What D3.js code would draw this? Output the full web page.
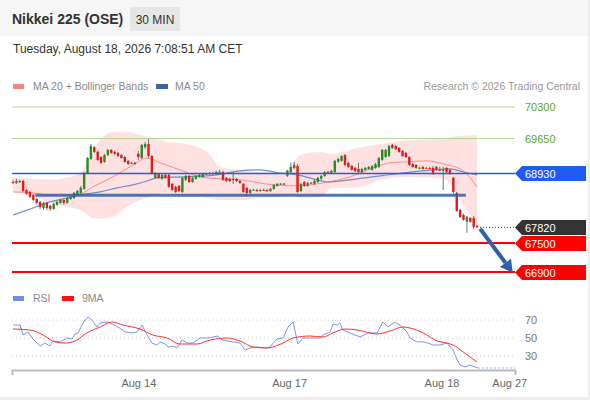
<!DOCTYPE html>
<html>
<head>
<meta charset="utf-8">
<script src="https://cdn.jsdelivr.net/npm/d3@7"></script>
<style>
  html, body { margin: 0; padding: 0; background: #ededed; }
  svg { display: block; font-family: "Liberation Sans", Arial, sans-serif; }
</style>
</head>
<body>
<div id="chart"></div>
<script>
// ---- data (30 min candles, index 0 = first visible bar) ----
var opens = [68755,68735,68775,68775,68590,68550,68490,68405,68345,68220,
  68325,68265,68200,68285,68325,68385,68325,68405,68425,68490,
  68530,68615,68940,69230,69475,69375,69270,69170,69310,69415,
  69375,69355,69310,69270,69190,69150,69150,69335,69250,69475,
  69540,69290,68840,68920,68820,68900,68900,68715,68655,68675,
  68550,68800,68880,68755,68820,68860,68860,68920,68920,68940,
  68920,68960,68960,68840,68820,68820,68820,68775,68715,68635,
  68530,68590,68590,68570,68595,68590,68570,68615,68675,68715,
  68720,68880,68960,69045,69085,68570,68755,68675,68735,68715,
  68755,68820,68880,68965,68940,68960,69170,69190,69310,69150,
  69085,69045,69025,68960,69005,69025,69005,69045,69065,69210,
  69270,69290,69520,69495,69455,69395,69355,69270,69125,69105,
  69040,69065,69045,69045,69045,69065,69005,69000,69045,69005,
  68840,68530,68180,68075,67935,68015,68015,67850];
var closes = [68750,68775,68755,68570,68510,68450,68385,68325,68240,68325,
  68220,68200,68305,68345,68385,68325,68425,68450,68530,68570,
  68635,68940,69250,69495,69375,69210,69150,69310,69415,69355,
  69335,69290,69250,69170,69125,69145,69125,69270,69520,69540,
  69290,68940,68940,68840,68900,68840,68655,68590,68550,68570,
  68840,68880,68755,68840,68880,68900,68920,68925,68940,68920,
  68960,68965,68800,68775,68775,68815,68775,68735,68550,68530,
  68590,68595,68570,68590,68590,68570,68615,68695,68715,68720,
  68715,68985,69065,69105,68550,68715,68675,68735,68740,68775,
  68840,68880,68960,68960,68985,69190,69230,69290,69105,69065,
  69005,68985,68960,69025,69045,69065,69085,69125,69250,69415,
  69415,69495,69455,69435,69375,69290,69270,69105,69065,69045,
  69045,69025,69040,69025,68920,69005,69000,69005,68960,68920,
  68550,68160,68035,67975,68035,67935,67830,67820];
var highs = [68800,68820,68800,68800,68615,68570,68510,68425,68365,68345,
  68345,68285,68325,68365,68405,68405,68450,68490,68550,68590,
  68675,68960,69270,69540,69495,69395,69290,69335,69435,69435,
  69395,69375,69335,69290,69210,69170,69170,69395,69540,69580,
  69640,69310,68960,68940,68920,68920,68920,68735,68675,68695,
  68860,68900,68900,68860,68900,68920,68940,68940,68960,68960,
  68985,69005,68985,68860,68840,68960,68840,68800,68735,68655,
  68615,68615,68615,68615,68615,68615,68635,68715,68735,68735,
  68735,69005,69150,69170,69125,68735,68775,68755,68755,68800,
  68860,68900,68985,68985,69005,69210,69250,69310,69335,69170,
  69105,69065,69150,69045,69065,69085,69105,69150,69270,69435,
  69435,69520,69540,69520,69475,69415,69375,69290,69150,69125,
  69065,69085,69065,69065,69085,69085,69065,69065,69065,69025,
  68860,68550,68200,68100,68055,68035,68055,67870];
var lows = [68715,68715,68735,68550,68490,68425,68365,68285,68200,68180,
  68180,68160,68180,68265,68305,68285,68305,68385,68405,68470,
  68510,68590,68920,69210,69355,69190,69125,69150,69290,69335,
  69310,69270,69230,69150,69105,69125,69105,69210,69230,69435,
  69250,68900,68820,68820,68800,68820,68635,68570,68530,68550,
  68530,68775,68735,68735,68800,68840,68840,68900,68900,68900,
  68900,68940,68775,68755,68755,68715,68755,68715,68530,68450,
  68510,68570,68550,68550,68570,68550,68550,68590,68655,68695,
  68695,68860,68940,69025,68530,68550,68655,68655,68715,68695,
  68735,68800,68860,68940,68920,68940,69150,69170,69085,69045,
  68985,68960,68940,68940,68985,69005,68985,69025,69045,69190,
  69250,69270,69435,69415,69355,69270,69250,69085,69045,69025,
  69025,69005,69025,69005,68900,68985,68985,68590,68940,68900,
  68510,68140,68015,67955,67705,67915,67790,67810];

// indicator readings: [bar index, value]
var ma20 = [[0,68550],[5.9,68530],[10.9,68490],[15.9,68490],[19.8,68510],[23.6,68655],
  [29.5,68860],[35.4,69105],[39.6,69250],[43.4,69150],[49.3,69005],[55.2,68860],
  [61.1,68820],[67,68800],[72.9,68735],[76.8,68695],[83.8,68675],[91.5,68735],
  [99.5,68860],[106.3,69045],[111.3,69150],[116.3,69170],[122.2,69190],[128.1,69105],
  [132,69025],[135,68840],[137,68655]];
var bandIdx = [0,5.9,10.9,15.9,19.8,23.6,25.7,29.5,33.7,37.5,40.4,45.5,49.3,55.2,58.2,61.1,
  67,72.9,78.8,81.8,84.7,90.6,94.5,99.5,104.5,107.5,112.2,117.2,122,127,129.9,132,135,137];
var bandUpper = [68840,68820,68800,68840,68940,69355,69620,69785,69785,69725,69685,69580,69560,
  69455,69310,69065,69005,68960,68940,69065,69310,69375,69335,69420,69490,69520,69580,69620,
  69630,69640,69685,69700,69715,69725];
var bandLower = [68550,68470,68325,68240,68180,68015,68000,68035,68250,68380,68450,68530,68450,
  68450,68420,68385,68385,68425,68450,68490,68425,68450,68635,68635,68695,68775,68840,68860,
  68850,68820,68650,68385,68075,67810];
var ma50 = [[0,68075],[5.9,68220],[10.9,68345],[15.9,68425],[19.8,68490],[25.7,68550],
  [30.7,68635],[35.4,68695],[39.6,68775],[42.5,68840],[50.2,68860],[60.2,68900],
  [67,68985],[72.9,69005],[78.8,68940],[83.9,68900],[89.8,68800],[92.7,68755],
  [99.5,68800],[108.4,68880],[117.2,68960],[124,69005],[129,69025],[132.9,68960],[137,68900]];

var rsi = [[0,64.4],[2.1,64.4],[3,53.3],[4.4,56.7],[5.6,50],[7.1,44.4],[8,41.1],[9.4,44.4],
  [10.9,41.1],[11.8,46.7],[13.9,45.6],[15.9,50],[17.4,48.9],[18.3,54.4],[19.2,55.6],
  [20.7,66.7],[22.1,73.3],[23.3,70],[24.8,62.2],[25.7,66.7],[27.8,67.8],[29.2,65.6],
  [31,62.2],[33.1,56.7],[35.1,55.6],[36.6,56.7],[38.1,64.4],[39.6,53.3],[41,44.4],
  [42.5,42.2],[43.4,45.6],[44.9,43.3],[45.8,40],[47.2,41.1],[48.4,38.9],[49.9,47.8],
  [51.4,44.4],[53.1,44.4],[55.2,50],[57.6,50],[59,51.1],[60.5,52.2],[61.7,47.8],
  [65,45.6],[67,44.4],[68.5,36.7],[70,38.9],[72,40],[74.4,38.9],[75.9,40],[77.9,48.9],
  [79.7,50],[81.2,62.2],[82.7,67.8],[84.1,43.3],[85.6,50],[88.6,50],[90.6,50],
  [91.5,53.3],[93.6,56.7],[94.5,65.6],[95.7,64.4],[96.5,66.7],[97.4,58.9],[99.5,55.6],
  [102.5,51.1],[104.8,55.6],[107.5,55.6],[109.2,67.8],[110.7,62.2],[112.8,67.8],
  [114.9,62.2],[116.3,56.7],[117.2,50],[119.3,45.6],[121.1,45.6],[122.5,44.4],
  [124,42.2],[126.1,42.2],[128.1,44.4],[129.9,36.7],[131.1,25.6],[132,20],[133.5,17.8],
  [134.9,20],[136.4,17.8],[137.3,16.7]];
var rsiMa = [[0,60],[5,58.9],[8.9,53.3],[12.4,45.6],[15.4,44.4],[18.3,46.7],[21.8,55.6],
  [25.7,62.2],[29.2,67.8],[32.5,64.4],[37.5,60],[41.3,53.3],[45.5,50],[49.3,43.3],
  [54.3,43.3],[58.2,47.8],[63.2,50],[67,46.7],[70.9,40],[75,38.9],[79.7,44.4],[82.7,50],
  [87.7,52.2],[91.5,51.1],[94.5,55.6],[98,60],[101.6,58.9],[107.5,54.4],[111.3,57.8],
  [115.1,62.2],[117.2,61.1],[121.1,55.6],[125.2,46.7],[128.1,44.4],[129.9,42.2],
  [132.9,34.4],[137,23.3]];

var resistances = [70300, 69650];
var pivot = 68930;
var supports = [67500, 66900];
var lastPrice = 67820;
var baseLevel = 68480;
var rsiLevels = [70, 50, 30];
var tickIdx = [37, 81.5, 126.5, 146.5];
var tickLabels = ["Aug 14", "Aug 17", "Aug 18", "Aug 27"];

// ---- layout ----
var width = 590, height = 400;
var plotLeft = 12, plotRight = 515;

var x = d3.scaleLinear().domain([-0.3, 148.2]).range([plotLeft, plotRight]);
var y = d3.scaleLinear().domain([66900, 70300]).range([272, 107]);
var yRsi = d3.scaleLinear().domain([30, 70]).range([356, 320]);

var svg = d3.select('#chart').append('svg')
  .attr('width', width)
  .attr('height', height);

svg.append('rect').attr('x', 0).attr('y', 0)
  .attr('width', 588).attr('height', 397).attr('fill', '#fff');
svg.append('rect').attr('x', 0).attr('y', 0)
  .attr('width', 588).attr('height', 36).attr('fill', '#f6f6f6');

// header
svg.append('text').attr('x', 12).attr('y', 24)
  .attr('font-size', 14).attr('font-weight', 'bold').attr('fill', '#333')
  .text('Nikkei 225 (OSE)');
svg.append('rect').attr('x', 130).attr('y', 7).attr('width', 50).attr('height', 24)
  .attr('fill', '#e6e6e6');
svg.append('text').attr('x', 155).attr('y', 24).attr('text-anchor', 'middle')
  .attr('font-size', 12).attr('fill', '#333').text('30 MIN');
svg.append('text').attr('x', 13).attr('y', 53)
  .attr('font-size', 12).attr('fill', '#333')
  .text('Tuesday, August 18, 2026 7:08:51 AM CET');

// legend
var legend = svg.append('g');
legend.append('rect').attr('x', 13).attr('y', 84).attr('width', 11).attr('height', 5).attr('fill', '#ff8080');
legend.append('text').attr('x', 33).attr('y', 90).attr('font-size', 10.5).attr('fill', '#888')
  .text('MA 20 + Bollinger Bands');
legend.append('rect').attr('x', 156).attr('y', 84).attr('width', 12).attr('height', 5).attr('fill', '#3a63a8');
legend.append('text').attr('x', 175).attr('y', 90).attr('font-size', 10.5).attr('fill', '#888')
  .text('MA 50');
legend.append('text').attr('x', 580).attr('y', 90).attr('text-anchor', 'end')
  .attr('font-size', 10.5).attr('fill', '#999').text('Research \u00a9 2026 Trading Central');

// bollinger bands
var bandArea = d3.area()
  .x(function(d, i){ return x(d); })
  .y0(function(d, i){ return y(bandLower[i]); })
  .y1(function(d, i){ return y(bandUpper[i]); })
  .curve(d3.curveMonotoneX);
svg.append('path').datum(bandIdx).attr('d', bandArea)
  .attr('fill', '#ffdcdc').attr('opacity', 0.85);

// resistance lines
resistances.forEach(function(v){
  svg.append('line').attr('x1', plotLeft).attr('x2', plotRight)
    .attr('y1', y(v)).attr('y2', y(v))
    .attr('stroke', '#b4d69a').attr('stroke-width', 1);
  svg.append('text').attr('x', 525).attr('y', y(v) + 4)
    .attr('font-size', 11).attr('fill', '#5aa51c').text(v);
});

// moving averages
var maLine = d3.line()
  .x(function(d){ return x(d[0]); })
  .y(function(d){ return y(d[1]); })
  .curve(d3.curveMonotoneX);
svg.append('path').datum(ma20).attr('d', maLine)
  .attr('fill', 'none').attr('stroke', '#ff8a8a').attr('stroke-width', 1);
svg.append('path').datum(ma50).attr('d', maLine)
  .attr('fill', 'none').attr('stroke', '#6d8fc9').attr('stroke-width', 1.2);

// candles
var bars = svg.append('g').attr('id', 'candles');
var bw = 2.4;
opens.forEach(function(o, i){
  var c = closes[i];
  var col = c >= o ? '#2a8a2a' : '#e81818';
  bars.append('line')
    .attr('x1', x(i)).attr('x2', x(i))
    .attr('y1', y(highs[i])).attr('y2', y(lows[i]))
    .attr('stroke', '#666').attr('stroke-width', 0.9);
  var top = Math.min(y(o), y(c));
  var h = Math.max(1, Math.abs(y(o) - y(c)));
  bars.append('rect')
    .attr('x', x(i) - bw / 2).attr('y', top)
    .attr('width', bw).attr('height', h)
    .attr('fill', col);
});

// pivot line
svg.append('line').attr('x1', plotLeft).attr('x2', plotRight)
  .attr('y1', y(pivot)).attr('y2', y(pivot))
  .attr('stroke', '#1f5cf0').attr('stroke-width', 1.6);

// base level (thick)
svg.append('line').attr('x1', x(6.6)).attr('x2', x(133.7))
  .attr('y1', y(baseLevel)).attr('y2', y(baseLevel))
  .attr('stroke', '#345fa3').attr('stroke-width', 3).attr('opacity', 0.85);

// support lines
supports.forEach(function(v){
  svg.append('line').attr('x1', plotLeft).attr('x2', plotRight)
    .attr('y1', y(v)).attr('y2', y(v))
    .attr('stroke', '#ff0000').attr('stroke-width', 2);
});

// last price dotted
svg.append('line').attr('x1', x(137) + 3).attr('x2', plotRight)
  .attr('y1', y(lastPrice)).attr('y2', y(lastPrice))
  .attr('stroke', '#333').attr('stroke-width', 1).attr('stroke-dasharray', '1,2');

// price tags
function tag(v, fill){
  var yy = Math.round(y(v)) + 0.5;
  svg.append('path')
    .attr('d', 'M' + plotRight + ',' + yy + 'L' + (plotRight + 7) + ',' + (yy - 7.5) +
      'L586,' + (yy - 7.5) + 'L586,' + (yy + 7.5) + 'L' + (plotRight + 7) + ',' + (yy + 7.5) + 'Z')
    .attr('fill', fill);
  svg.append('text').attr('x', 525).attr('y', yy + 4)
    .attr('font-size', 11).attr('fill', '#fff').text(v);
}
tag(pivot, '#1f5cf0');
tag(lastPrice, '#333');
supports.forEach(function(v){ tag(v, '#ff0000'); });

// arrow
var a0 = [x(137.9), y(67790)], a1 = [x(147.5), y(66890)];
var dx = a1[0] - a0[0], dy = a1[1] - a0[1], len = Math.sqrt(dx * dx + dy * dy);
var ux = dx / len, uy = dy / len, headL = 12, headW = 7;
var bx = a1[0] - ux * headL, by = a1[1] - uy * headL;
svg.append('line').attr('x1', a0[0]).attr('y1', a0[1]).attr('x2', bx).attr('y2', by)
  .attr('stroke', '#2f5fa8').attr('stroke-width', 4);
svg.append('path')
  .attr('d', 'M' + a1[0] + ',' + a1[1] + 'L' + (bx - uy * headW) + ',' + (by + ux * headW) +
    'L' + (bx + uy * headW) + ',' + (by - ux * headW) + 'Z')
  .attr('fill', '#2f5fa8');

// ---- RSI panel ----
var rl = svg.append('g');
rl.append('rect').attr('x', 13).attr('y', 296).attr('width', 11).attr('height', 5).attr('fill', '#6f8fe8');
rl.append('text').attr('x', 33).attr('y', 302).attr('font-size', 10.5).attr('fill', '#888').text('RSI');
rl.append('rect').attr('x', 62).attr('y', 296).attr('width', 12).attr('height', 5).attr('fill', '#ff1010');
rl.append('text').attr('x', 82).attr('y', 302).attr('font-size', 10.5).attr('fill', '#888').text('9MA');

rsiLevels.forEach(function(v){
  svg.append('line').attr('x1', plotLeft).attr('x2', plotRight)
    .attr('y1', yRsi(v)).attr('y2', yRsi(v))
    .attr('stroke', '#c8c8c8').attr('stroke-width', 1).attr('stroke-dasharray', '1,3');
  svg.append('text').attr('x', 525).attr('y', yRsi(v) + 4)
    .attr('font-size', 11).attr('fill', '#777').text(v);
});

var rsiLine = d3.line()
  .x(function(d){ return x(d[0]); })
  .y(function(d){ return yRsi(d[1]); });
svg.append('path').datum(rsi).attr('d', rsiLine)
  .attr('fill', 'none').attr('stroke', '#7b96ea').attr('stroke-width', 1);
var lastRsi = rsi[rsi.length - 1];
svg.append('line').attr('x1', x(lastRsi[0])).attr('x2', plotRight)
  .attr('y1', yRsi(lastRsi[1])).attr('y2', yRsi(lastRsi[1]))
  .attr('stroke', '#7b96ea').attr('stroke-width', 1).attr('stroke-dasharray', '1.5,2.5');
svg.append('path').datum(rsiMa).attr('d', rsiLine.curve(d3.curveMonotoneX))
  .attr('fill', 'none').attr('stroke', '#ff3030').attr('stroke-width', 1);

// time axis
var axis = svg.append('g').attr('transform', 'translate(0,370)')
  .call(d3.axisBottom(x).tickValues(tickIdx)
    .tickFormat(function(d, i){ return tickLabels[i]; })
    .tickSize(0).tickSizeOuter(5).tickPadding(9));
axis.select('.domain').attr('stroke', '#bbb').attr('stroke-width', 2);
axis.selectAll('text').attr('font-size', 11).attr('fill', '#666')
  .attr('font-family', '"Liberation Sans", Arial, sans-serif');
</script>
</body>
</html>
